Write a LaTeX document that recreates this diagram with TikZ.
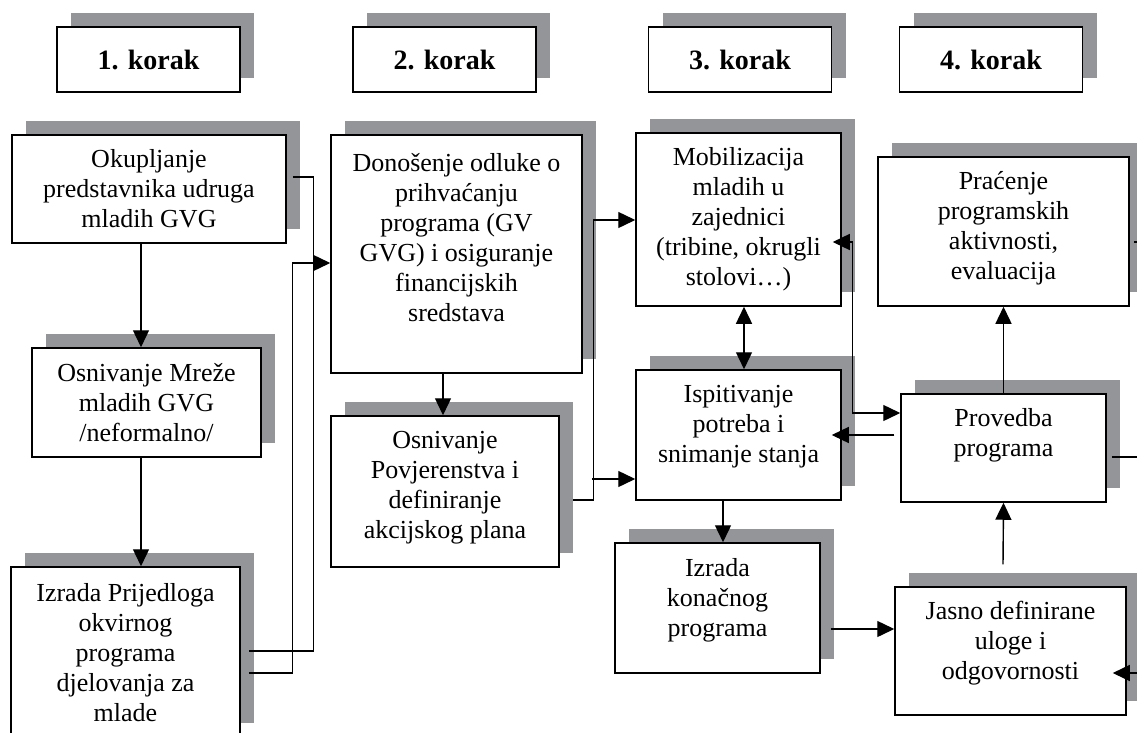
\documentclass[tikz,border=0pt]{standalone}
\usepackage{fontspec}
\setmainfont{Liberation Serif}
\usetikzlibrary{arrows.meta,calc,shadows}
\definecolor{shgray}{RGB}{148,149,153}
\begin{document}
\begin{tikzpicture}[x=1pt,y=-1pt,
  box/.style={draw=black, line width=1.5pt, fill=white, inner sep=0pt,
    drop shadow={shadow xshift=14pt, shadow yshift=14pt, fill=shgray, opacity=1}},
  txt/.style={align=center, font=\fontsize{26}{30}\selectfont, inner sep=0pt},
  hdr/.style={font=\bfseries\fontsize{28}{32}\selectfont},
  conn/.style={line width=1.4pt},
  arr/.style={conn, -{Triangle[length=17pt,width=16pt]}},
  darr/.style={conn, {Triangle[length=17pt,width=16pt]}-{Triangle[length=17pt,width=16pt]}}]
\useasboundingbox (0,0) rectangle (1137,733);
\clip (0,0) rectangle (1137,733);
% headers
\node[box,hdr,minimum width=183pt,minimum height=65pt] (h1) at (148.5,59.5) {1. korak};
\node[box,hdr,minimum width=183pt,minimum height=65pt] (h2) at (444.5,59.5) {2. korak};
\node[box,hdr,minimum width=183pt,minimum height=65pt] (h3) at (740,59.5) {3. korak};
\node[box,hdr,minimum width=183pt,minimum height=65pt] (h4) at (991,59.5) {4. korak};
% boxes
\node[box,minimum width=274pt,minimum height=108pt] (ok) at (149,189) {};
\node[txt] (okt) at (ok.center) {Okupljanje\\predstavnika udruga\\mladih GVG};
\node[box,minimum width=229pt,minimum height=109pt] (mr) at (146.5,402.5) {};
\node[txt] (mrt) at (mr.center) {Osnivanje Mreže\\mladih GVG\\/neformalno/};
\node[box,minimum width=229pt,minimum height=170pt] (iz) at (125.5,652) {};
\node[txt] (izt) at ($(iz.center)+(0,1)$) {Izrada Prijedloga\\okvirnog\\programa\\djelovanja za\\mlade};
\node[box,minimum width=251pt,minimum height=238pt] (don) at (456.5,254) {};
\node[txt] (dont) at ($(don.center)+(0,-16.5)$) {Donošenje odluke o\\prihvaćanju\\programa (GV\\GVG) i osiguranje\\financijskih\\sredstava};
\node[box,minimum width=228pt,minimum height=151pt] (pov) at (445,491.5) {};
\node[txt] (povt) at ($(pov.center)+(0,-4)$) {Osnivanje\\Povjerenstva i\\definiranje\\akcijskog plana};
\node[box,minimum width=205pt,minimum height=173pt] (mob) at (738.5,219.5) {};
\node[txt] (mobt) at (mob.center) {Mobilizacija\\mladih u\\zajednici\\(tribine, okrugli\\stolovi…)};
\node[box,minimum width=205pt,minimum height=130pt] (isp) at (738.5,435) {};
\node[txt] (ispt) at ($(isp.center)+(0,-8)$) {Ispitivanje\\potreba i\\snimanje stanja};
\node[box,minimum width=251pt,minimum height=149pt] (pra) at (1003.5,231.5) {};
\node[txt] (prat) at ($(pra.center)+(0,-3.5)$) {Praćenje\\programskih\\aktivnosti,\\evaluacija};
\node[box,minimum width=205pt,minimum height=108pt] (pro) at (1003.5,448) {};
\node[txt] (prot) at ($(pro.center)+(0,-12.5)$) {Provedba\\programa};
\node[box,minimum width=205pt,minimum height=130pt] (kon) at (717.5,608) {};
\node[txt] (kont) at ($(kon.center)+(0,-8)$) {Izrada\\konačnog\\programa};
\node[box,minimum width=231pt,minimum height=128pt] (jas) at (1010.5,651) {};
\node[txt] (jast) at ($(jas.center)+(0,-8)$) {Jasno definirane\\uloge i\\odgovornosti};
% connectors
\draw[arr] ($(ok.south)+(-8,0)$) -- ($(mr.north)+(-5.5,0)$);
\draw[arr] ($(mr.south)+(-5.5,0)$) -- ($(iz.north)+(15.5,0)$);
\draw[conn] ($(ok.east)+(6,-12)$) -- ++(21,0) |- ($(iz.east)+(8,-1)$);
\draw[arr] ($(iz.east)+(8,21)$) -- ++(44,0) |- ($(don.west)+(0,9)$);
\draw[arr] ($(don.south)+(-13.5,0)$) -- ($(pov.north)+(-2,0)$);
\draw[arr] ($(pov.east)+(13,8.5)$) -- ++(21,0) |- ($(mob.west)+(0,0.5)$);
\draw[arr] ($(isp.west)+(-43,44)$) -- ($(isp.west)+(0,44)$);
\draw[darr] ($(mob.south)+(5.5,0)$) -- ($(isp.north)+(5.5,0)$);
\draw[arr] ($(isp.south)+(-15.5,0)$) -- ($(kon.north)+(5.5,0)$);
\draw[arr] ($(kon.east)+(10,21)$) -- ($(jas.west)+(0,-22)$);
\draw[arr] ($(jas.north)+(-7.5,-22)$) -- (pro.south);
\draw[arr] (pro.north) -- (pra.south);
\draw[arr] ($(pro.west)+(-6,-13)$) -- ($(isp.east)+(-10,0)$);
\draw[darr] ($(mob.east)+(-9,22.5)$) -- ($(mob.east)+(11,22.5)$) |- ($(pro.west)+(0,-35)$);
\coordinate (e1) at (1160,242);
\coordinate (e2) at (1160,457);
\coordinate (e3) at (1160,673);
\draw[conn] ($(pra.east)+(4,10.5)$) -- (e1);
\draw[conn] ($(pro.east)+(5,9)$) -- (e2);
\draw[arr] (e3) -- ($(jas.east)+(-14,22)$);
\end{tikzpicture}
\end{document}
